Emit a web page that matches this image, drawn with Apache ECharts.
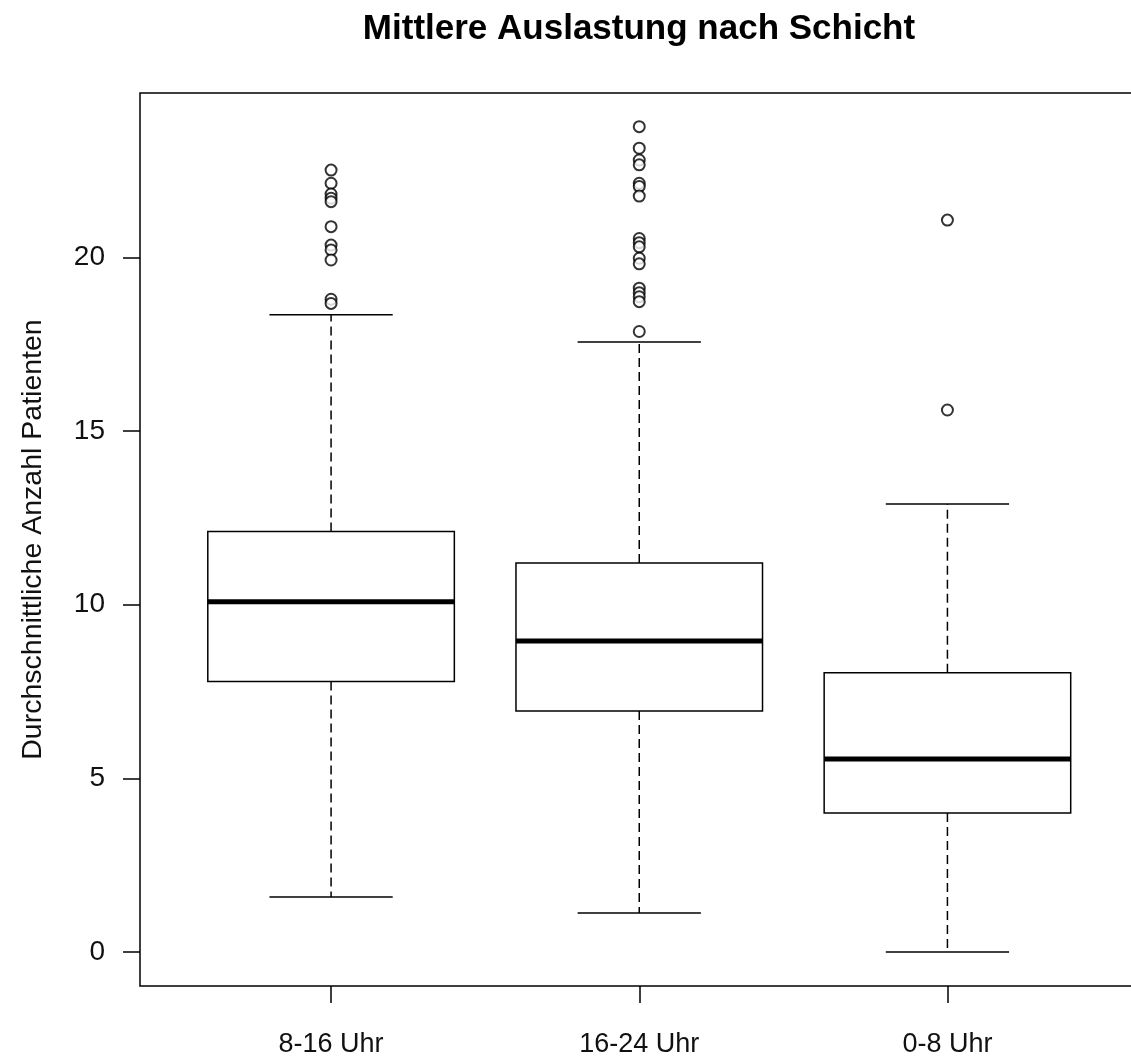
<!DOCTYPE html>
<html>
<head>
<meta charset="utf-8">
<script src="https://cdn.jsdelivr.net/npm/echarts@6/dist/echarts.min.js"></script>
<style>
html,body{margin:0;padding:0;background:#fff;}
#chart{width:1131px;height:1057px;}
</style>
</head>
<body>
<div id="chart"></div>
<script>
// Categories (shift)
const categories = ['8-16 Uhr', '16-24 Uhr', '0-8 Uhr'];
// Box statistics: [lower whisker, Q1, median, Q3, upper whisker]
const box8_16  = [1.58, 7.79, 10.09, 12.11, 18.35];
const box16_24 = [1.12, 6.94, 8.96, 11.20, 17.57];
const box0_8   = [0.00, 4.00, 5.56, 8.04, 12.90];
// Outliers per shift
const out8_16  = [22.52, 22.14, 21.83, 21.71, 21.61, 20.89, 20.36, 20.22, 19.93, 18.80, 18.68];
const out16_24 = [23.77, 23.15, 22.81, 22.67, 22.14, 22.05, 21.77, 20.55, 20.43, 20.31, 19.98, 19.82, 19.12, 18.99, 18.87, 18.73, 17.87];
const out0_8   = [21.08, 15.61];
// Y tick labels
const yTicks = [0, 5, 10, 15, 20];

const boxes = [box8_16, box16_24, box0_8];
const outliers = [out8_16, out16_24, out0_8];

const boxData = boxes.map((b, i) => [i + 1].concat(b));
const outData = [];
outliers.forEach((arr, i) => arr.forEach(v => outData.push([i + 1, v])));

const FONT = '"Liberation Sans", Arial, sans-serif';
const BOXW = 0.8;

function renderBox(params, api) {
  const x = api.value(0);
  const lo = api.coord([x, api.value(1)]);
  const q1 = api.coord([x, api.value(2)]);
  const md = api.coord([x, api.value(3)]);
  const q3 = api.coord([x, api.value(4)]);
  const hi = api.coord([x, api.value(5)]);
  const halfBox = api.size([BOXW, 0])[0] / 2;
  const halfCap = halfBox / 2;
  const cx = lo[0];
  const solid = {stroke: '#000', lineWidth: 1.5, fill: null};
  const dashed = {stroke: '#000', lineWidth: 1.5, lineDash: [9, 5], fill: null};
  return {
    type: 'group',
    children: [
      {type: 'line', shape: {x1: cx, y1: q3[1], x2: cx, y2: hi[1]}, style: dashed},
      {type: 'line', shape: {x1: cx, y1: q1[1], x2: cx, y2: lo[1]}, style: dashed},
      {type: 'line', shape: {x1: cx - halfCap, y1: hi[1], x2: cx + halfCap, y2: hi[1]}, style: solid},
      {type: 'line', shape: {x1: cx - halfCap, y1: lo[1], x2: cx + halfCap, y2: lo[1]}, style: solid},
      {type: 'rect', shape: {x: cx - halfBox, y: q3[1], width: 2 * halfBox, height: q1[1] - q3[1]},
        style: {stroke: '#000', lineWidth: 1.5, fill: '#fff'}},
      {type: 'line', shape: {x1: cx - halfBox, y1: md[1], x2: cx + halfBox, y2: md[1]},
        style: {stroke: '#000', lineWidth: 5}}
    ]
  };
}

const chart = echarts.init(document.getElementById('chart'), null, {renderer: 'canvas'});
chart.setOption({
  animation: false,
  backgroundColor: '#fff',
  title: {
    text: 'Mittlere Auslastung nach Schicht',
    left: 634,
    textAlign: 'center',
    top: 7,
    textStyle: {fontFamily: FONT, fontSize: 35, fontWeight: 'bold', color: '#000'}
  },
  grid: {
    left: 140, width: 998.5, top: 93, bottom: 71,
    outerBoundsMode: 'none',
    containLabel: false,
    show: true, borderColor: '#000', borderWidth: 1.5, backgroundColor: 'transparent'
  },
  xAxis: {
    type: 'value',
    position: 'bottom',
    min: 0.38, max: 3.62,
    splitLine: {show: false},
    axisLine: {show: false, onZero: false},
    axisTick: {show: true, customValues: [1, 2, 3], length: 17, inside: false,
      lineStyle: {color: '#000', width: 1.5}},
    axisLabel: {customValues: [1, 2, 3], margin: 45,
      formatter: v => categories[Math.round(v) - 1] || '',
      fontFamily: FONT, fontSize: 27, color: '#111'}
  },
  yAxis: {
    type: 'value',
    position: 'left',
    min: -0.98, max: 24.74,
    name: 'Durchschnittliche Anzahl Patienten',
    nameLocation: 'middle',
    nameRotate: 90,
    nameGap: 92,
    nameTextStyle: {fontFamily: FONT, fontSize: 28.5, color: '#111'},
    splitLine: {show: false},
    axisLine: {show: false, onZero: false},
    axisTick: {show: true, customValues: yTicks, length: 17, inside: false,
      lineStyle: {color: '#000', width: 1.5}},
    axisLabel: {customValues: yTicks, margin: 35,
      fontFamily: FONT, fontSize: 28, color: '#111'}
  },
  series: [
    {
      type: 'custom',
      renderItem: renderBox,
      data: boxData,
      encode: {x: 0, y: [1, 2, 3, 4, 5]},
      z: 2
    },
    {
      type: 'scatter',
      data: outData,
      symbol: 'emptyCircle',
      symbolSize: 11,
      itemStyle: {color: '#000', borderColor: '#000', borderWidth: 1.4},
      z: 3
    }
  ]
});
</script>
</body>
</html>
